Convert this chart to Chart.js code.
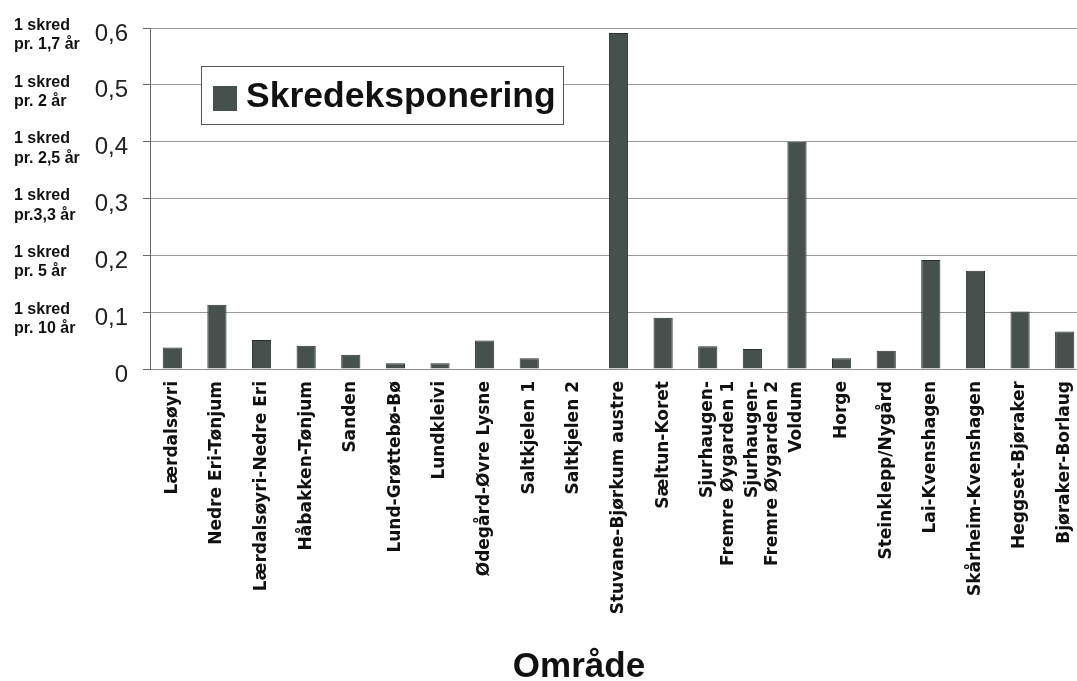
<!DOCTYPE html>
<html>
<head>
<meta charset="utf-8">
<script src="https://cdn.jsdelivr.net/npm/chart.js@4.4.1/dist/chart.umd.min.js"></script>
<style>
  html, body { margin: 0; padding: 0; background: #ffffff; overflow: hidden; width: 1077px; height: 681px; }
  #wrap { width: 1087px; height: 681px; position: relative; }
</style>
</head>
<body>
<div id="wrap"><canvas id="c"></canvas></div>
<script>
// Areas along the road and their slide exposure
const areas = [
  'Lærdalsøyri', 'Nedre Eri-Tønjum', 'Lærdalsøyri-Nedre Eri', 'Håbakken-Tønjum',
  'Sanden', 'Lund-Grøttebø-Bø', 'Lundkleivi', 'Ødegård-Øvre Lysne',
  'Saltkjelen 1', 'Saltkjelen 2', 'Stuvane-Bjørkum austre', 'Sæltun-Koret',
  ['Sjurhaugen-', 'Fremre Øygarden 1'], ['Sjurhaugen-', 'Fremre Øygarden 2'],
  'Voldum', 'Horge', 'Steinklepp/Nygård', 'Lai-Kvenshagen',
  'Skårheim-Kvenshagen', 'Heggset-Bjøraker', 'Bjøraker-Borlaug'
];
const exposure = [
  0.038, 0.113, 0.051, 0.041, 0.025, 0.010, 0.010, 0.050, 0.019, 0.0,
  0.591, 0.090, 0.040, 0.035, 0.400, 0.019, 0.032, 0.192, 0.173, 0.101, 0.066
];
const seriesName = 'Skredeksponering';
const xAxisTitle = 'Område';

// Return-period notes shown beside the value ticks
const noteValues = [0.1, 0.2, 0.3, 0.4, 0.5, 0.6];
const noteLines = [
  ['1 skred', 'pr. 10 år'],
  ['1 skred', 'pr. 5 år'],
  ['1 skred', 'pr.3,3 år'],
  ['1 skred', 'pr. 2,5 år'],
  ['1 skred', 'pr. 2 år'],
  ['1 skred', 'pr. 1,7 år']
];

const BAR_FILL = '#46504d';
const BAR_EDGE = '#2a302e';

// Framed legend inside the plot area
const boxedLegend = {
  id: 'boxedLegend',
  afterDraw(chart) {
    const ctx = chart.ctx;
    const ds = chart.data.datasets[0];
    const x0 = 201, y0 = 66, w = 362, h = 58;
    ctx.save();
    ctx.fillStyle = '#ffffff';
    ctx.fillRect(x0, y0, w, h);
    ctx.strokeStyle = '#555555';
    ctx.lineWidth = 1;
    ctx.strokeRect(x0 + 0.5, y0 + 0.5, w, h);
    ctx.fillStyle = ds.backgroundColor;
    ctx.fillRect(x0 + 12, y0 + 20, 24, 25);
    ctx.font = 'bold 35.5px "Liberation Sans", Arial, sans-serif';
    ctx.fillStyle = '#111111';
    ctx.textBaseline = 'middle';
    ctx.textAlign = 'left';
    ctx.fillText(ds.label, x0 + 45, y0 + 31);
    ctx.restore();
  }
};

// Category axis title
const axisTitle = {
  id: 'axisTitle',
  afterDraw(chart) {
    const ctx = chart.ctx;
    ctx.save();
    ctx.font = 'bold 35px "Liberation Sans", Arial, sans-serif';
    ctx.fillStyle = '#111111';
    ctx.textAlign = 'center';
    ctx.textBaseline = 'alphabetic';
    ctx.fillText(xAxisTitle, 579, 677);
    ctx.restore();
  }
};

// Value axes keep no extra room above/below the plot
function trimVertical(scale, width) {
  scale.width = width;
  scale.paddingTop = 0;
  scale.paddingBottom = 0;
}

new Chart(document.getElementById('c'), {
  type: 'bar',
  data: {
    labels: areas,
    datasets: [{
      label: seriesName,
      data: exposure,
      backgroundColor: BAR_FILL,
      borderColor: BAR_EDGE,
      borderWidth: 1,
      barPercentage: 0.43,
      categoryPercentage: 1.0
    }]
  },
  options: {
    responsive: true,
    maintainAspectRatio: false,
    animation: false,
    layout: { padding: { top: 28, left: 14, right: 0, bottom: 0 } },
    plugins: {
      legend: { display: false },
      tooltip: { enabled: false }
    },
    scales: {
      x: {
        grid: { display: false, drawTicks: false },
        border: { display: true, color: '#8c8c8c', width: 1 },
        ticks: {
          autoSkip: false,
          minRotation: 90,
          maxRotation: 90,
          padding: 12,
          color: '#111111',
          font: { family: '"DejaVu Sans", sans-serif', weight: 'bold', size: 17 }
        },
        afterFit(scale) {
          scale.height = 312;
          scale.paddingLeft = 0;
          scale.paddingRight = 0;
        }
      },
      y: {
        position: 'left',
        weight: 0,
        min: 0,
        max: 0.6,
        grid: {
          color: '#9a9a9a',
          lineWidth: 1,
          drawTicks: true,
          tickLength: 7,
          tickColor: '#666666'
        },
        border: { display: true, color: '#666666', width: 1 },
        ticks: {
          stepSize: 0.1,
          padding: 15,
          labelOffset: 6,
          color: '#222222',
          font: { family: '"Liberation Sans", Arial, sans-serif', size: 24 },
          callback: (v) => v === 0 ? '0' : v.toFixed(1).replace('.', ',')
        },
        afterFit(scale) { trimVertical(scale, 56); }
      },
      yNote: {
        position: 'left',
        weight: 1,
        min: 0,
        max: 0.6,
        grid: { display: false, drawTicks: false },
        border: { display: false },
        ticks: {
          stepSize: 0.1,
          padding: 0,
          crossAlign: 'far',
          labelOffset: 7,
          color: '#111111',
          font: { family: '"Liberation Sans", Arial, sans-serif', weight: 'bold', size: 16, lineHeight: 1.2 },
          callback: (v) => {
            const i = noteValues.findIndex(n => Math.abs(n - v) < 1e-6);
            return i >= 0 ? noteLines[i] : '';
          }
        },
        afterFit(scale) { trimVertical(scale, 80); }
      }
    }
  },
  plugins: [boxedLegend, axisTitle]
});
</script>
</body>
</html>
